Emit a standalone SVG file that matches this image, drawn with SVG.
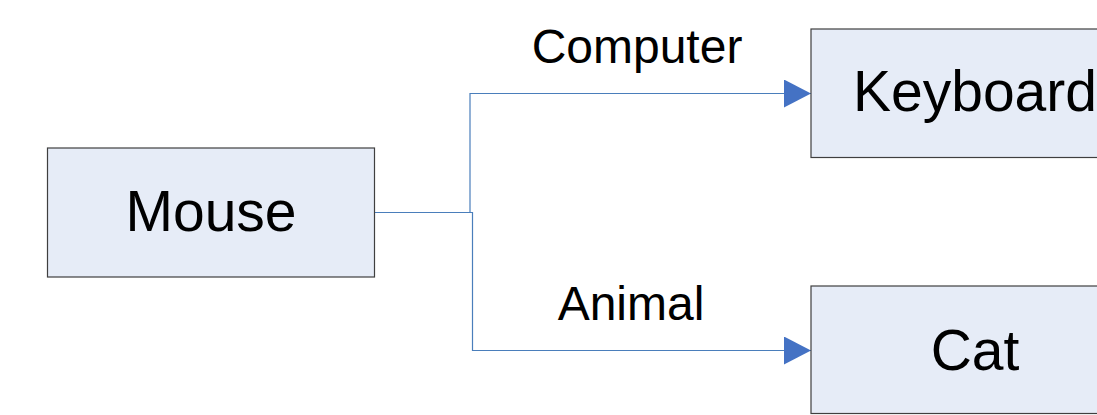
<svg xmlns="http://www.w3.org/2000/svg" width="1097" height="415" viewBox="0 0 1097 415">
  <style>
    .node rect { fill: #E6ECF7; stroke: #3F3F3F; stroke-width: 1.2; }
    .node text { font-family: "Liberation Sans", Arial, sans-serif; font-size: 57px; fill: #000; text-anchor: middle; }
    .edge { fill: none; stroke: #4A7EBB; stroke-width: 1.2; }
    .label { font-family: "Liberation Sans", Arial, sans-serif; font-size: 48px; fill: #000; text-anchor: middle; }
  </style>
  <defs>
    <marker id="arrow" markerUnits="userSpaceOnUse" markerWidth="27" markerHeight="28" refX="27" refY="14" orient="auto" viewBox="0 0 27 28">
      <path d="M0,0 L27,14 L0,28 Z" fill="#4472C4"/>
    </marker>
  </defs>
  <rect width="1097" height="415" fill="#FFFFFF"/>

  <g id="connectors">
    <path class="edge" d="M375,212.5 H470 V93.5 H811" marker-end="url(#arrow)"/>
    <path class="edge" d="M375,212.5 H472.5 V350.5 H811" marker-end="url(#arrow)"/>
    <text class="label" x="637" y="63">Computer</text>
    <text class="label" x="631" y="320">Animal</text>
  </g>

  <g id="mouse" class="node">
    <rect x="47.5" y="148" width="327" height="129"/>
    <text x="211" y="231">Mouse</text>
  </g>

  <g id="keyboard" class="node">
    <rect x="811" y="29" width="329" height="128.5"/>
    <text x="975" y="111">Keyboard</text>
  </g>

  <g id="cat" class="node">
    <rect x="811" y="286" width="329" height="127.5"/>
    <text x="975" y="370">Cat</text>
  </g>
</svg>
